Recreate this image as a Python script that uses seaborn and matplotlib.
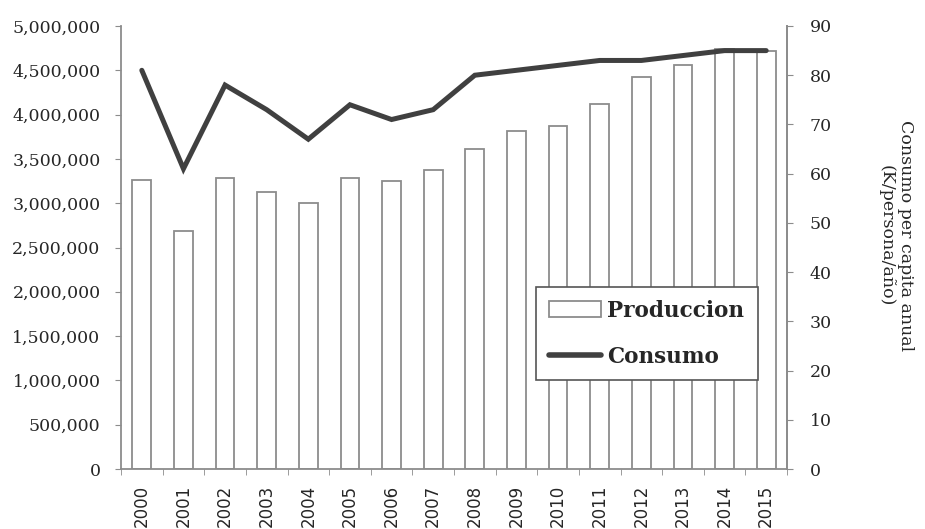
import numpy as np
import matplotlib
matplotlib.use("Agg")
import matplotlib.pyplot as plt
import seaborn as sns
from matplotlib.ticker import FuncFormatter, MultipleLocator, FixedLocator
from matplotlib.lines import Line2D
from matplotlib.patches import Patch

# Data
years = ["2000", "2001", "2002", "2003", "2004", "2005", "2006", "2007",
         "2008", "2009", "2010", "2011", "2012", "2013", "2014", "2015"]
produccion = [3265000, 2690000, 3290000, 3130000, 3000000, 3280000, 3245000, 3380000,
              3610000, 3820000, 3875000, 4115000, 4420000, 4555000, 4735000, 4720000]
consumo = [81, 61, 78, 73, 67, 74, 71, 73, 80, 81, 82, 83, 83, 84, 85, 85]

sns.set_style("white")
plt.rcParams['font.family'] = ['DejaVu Serif']

spine_col = "#8c8c8c"

fig = plt.figure(figsize=(9.25, 5.29), dpi=100)
ax = fig.add_axes([121 / 925, 1 - 469 / 529, 666 / 925, 443 / 529])

sns.barplot(x=years, y=produccion, ax=ax, color="white", edgecolor=spine_col,
            linewidth=1.3, width=0.45, saturation=1)

ax.set_ylim(0, 5000000)
ax.yaxis.set_major_locator(MultipleLocator(500000))
ax.yaxis.set_major_formatter(FuncFormatter(lambda v, p: f"{int(v):,}"))
ax.set_xlim(-0.5, len(years) - 0.5)
ax.tick_params(axis='y', labelsize=12.5, length=4.3, color=spine_col, left=True,
               direction='out', pad=10.5)
ax.set_xticks(range(len(years)))
ax.set_xticklabels(years, rotation=90, family='DejaVu Sans')
ax.tick_params(axis='x', which='major', length=0, labelsize=12, pad=11.5)
ax.xaxis.set_minor_locator(FixedLocator(np.arange(-0.5, len(years), 1.0)))
ax.tick_params(axis='x', which='minor', length=4, color=spine_col, bottom=True,
               direction='out')
for s in ['left', 'bottom', 'right']:
    ax.spines[s].set_color(spine_col)
    ax.spines[s].set_linewidth(1.3)
ax.spines['top'].set_visible(False)
ax.set_xlabel("")
ax.set_ylabel("")

ax2 = ax.twinx()
sns.lineplot(x=np.arange(len(years)), y=consumo, ax=ax2, color="#404040",
             linewidth=3.6, solid_joinstyle='miter')
ax2.set_ylim(0, 90)
ax2.yaxis.set_major_locator(MultipleLocator(10))
ax2.tick_params(axis='y', labelsize=12.5, length=4.3, color=spine_col, right=True,
                direction='out', pad=12)
for s in ['top', 'left', 'bottom']:
    ax2.spines[s].set_visible(False)
ax2.spines['right'].set_color(spine_col)
ax2.spines['right'].set_linewidth(1.3)
ax2.set_ylabel("Consumo per capita anual\n(K/persona/año)", rotation=270,
               fontsize=12.5, linespacing=1.15)
ax2.yaxis.set_label_coords((896 - 121) / 666, (469 - 236) / 443)
ax2.yaxis.label.set_verticalalignment('center')
ax2.yaxis.label.set_horizontalalignment('center')

handles = [Patch(facecolor="white", edgecolor=spine_col, linewidth=1.3),
           Line2D([0], [0], color="#404040", linewidth=4)]
leg = ax2.legend(handles, ["Produccion", "Consumo"], loc='upper left',
                 bbox_to_anchor=(0.623, 0.411, 0.333, 0.0), mode='expand',
                 prop={'weight': 'bold', 'size': 15.5}, frameon=True,
                 fancybox=False, framealpha=1, edgecolor="#555555",
                 handlelength=2.4, handleheight=0.75, handletextpad=0.3,
                 borderpad=0.6, labelspacing=1.1, borderaxespad=0)
leg.get_frame().set_linewidth(1.2)

fig.savefig("out.png", dpi=100)
